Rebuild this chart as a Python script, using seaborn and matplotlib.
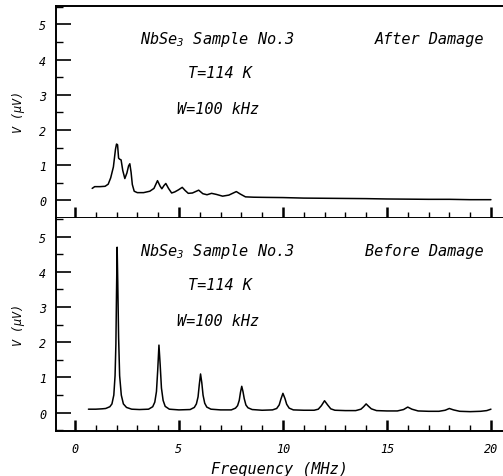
import numpy as np
import pandas as pd
import seaborn as sns
import matplotlib.pyplot as plt

# frequency (MHz) and signal V (uV)
freq_after = [0.83, 0.95, 1.20, 1.45, 1.60, 1.72, 1.85, 1.95, 2.00, 2.05, 2.10, 2.15,
              2.22, 2.30, 2.40, 2.50, 2.58, 2.64, 2.70, 2.76, 2.85, 3.00, 3.30, 3.60,
              3.80, 3.97, 4.10, 4.18, 4.28, 4.37, 4.50, 4.65, 4.80, 4.98, 5.16, 5.30,
              5.45, 5.65, 5.95, 6.15, 6.35, 6.57, 6.80, 7.10, 7.40, 7.76, 7.95, 8.20,
              8.60, 9.20, 10.0, 11.0, 12.0, 13.0, 14.0, 15.0, 16.0, 17.0, 18.0, 19.0, 20.0]
v_after = [0.34, 0.39, 0.39, 0.40, 0.46, 0.64, 0.95, 1.45, 1.60, 1.58, 1.20, 1.17,
           1.15, 0.85, 0.62, 0.78, 0.98, 1.04, 0.80, 0.45, 0.26, 0.22, 0.22, 0.26,
           0.34, 0.56, 0.40, 0.33, 0.42, 0.48, 0.34, 0.21, 0.24, 0.30, 0.37, 0.28,
           0.20, 0.21, 0.29, 0.19, 0.16, 0.20, 0.17, 0.12, 0.15, 0.25, 0.18, 0.10,
           0.09, 0.085, 0.08, 0.065, 0.06, 0.055, 0.05, 0.04, 0.035, 0.03, 0.03, 0.02, 0.02]

freq_before = [0.65, 1.00, 1.30, 1.48, 1.68, 1.78, 1.87, 1.93, 1.97, 2.00, 2.03, 2.06,
               2.10, 2.15, 2.23, 2.33, 2.48, 2.73, 3.10, 3.54, 3.74, 3.84, 3.92, 3.98,
               4.04, 4.10, 4.16, 4.24, 4.34, 4.54, 5.00, 5.54, 5.74, 5.84, 5.92, 5.98,
               6.04, 6.10, 6.16, 6.24, 6.34, 6.54, 7.00, 7.52, 7.72, 7.82, 7.90, 7.96,
               8.02, 8.08, 8.14, 8.22, 8.32, 8.52, 9.00, 9.50, 9.70, 9.82, 9.90, 10.0,
               10.1, 10.18, 10.3, 10.5, 11.0, 11.5, 11.7, 11.85, 12.0, 12.15, 12.3, 12.5,
               13.0, 13.5, 13.75, 13.88, 14.0, 14.12, 14.25, 14.5, 15.0, 15.5, 15.8, 16.0,
               16.2, 16.5, 17.0, 17.5, 17.8, 18.0, 18.2, 18.5, 19.0, 19.5, 19.8, 20.0]
v_before = [0.10, 0.10, 0.11, 0.12, 0.17, 0.25, 0.50, 1.05, 1.95, 3.40, 4.70, 3.70,
            2.15, 1.05, 0.50, 0.25, 0.15, 0.10, 0.09, 0.10, 0.17, 0.30, 0.60, 1.20,
            1.92, 1.35, 0.70, 0.35, 0.18, 0.10, 0.08, 0.09, 0.15, 0.25, 0.45, 0.80,
            1.10, 0.85, 0.50, 0.27, 0.16, 0.10, 0.08, 0.08, 0.13, 0.20, 0.35, 0.58,
            0.75, 0.60, 0.40, 0.22, 0.14, 0.09, 0.07, 0.08, 0.12, 0.22, 0.38, 0.55,
            0.40, 0.24, 0.13, 0.08, 0.07, 0.07, 0.10, 0.20, 0.34, 0.22, 0.11, 0.07,
            0.06, 0.06, 0.10, 0.17, 0.25, 0.18, 0.11, 0.06, 0.05, 0.05, 0.09, 0.16,
            0.10, 0.05, 0.04, 0.04, 0.07, 0.12, 0.08, 0.04, 0.03, 0.04, 0.06, 0.10]

sample_text = r'NbSe$_{3}$ Sample No.3'
temp_text = 'T=114 K'
width_text = 'W=100 kHz'
panel_titles = ['After Damage', 'Before Damage']

sns.set_style('ticks')
plt.rcParams['font.family'] = ['DejaVu Sans Mono']
plt.rcParams['font.style'] = 'italic'
plt.rcParams['mathtext.fontset'] = 'custom'
plt.rcParams['mathtext.rm'] = 'DejaVu Sans Mono:italic'
plt.rcParams['mathtext.it'] = 'DejaVu Sans Mono:italic'
plt.rcParams['axes.edgecolor'] = 'black'
plt.rcParams['xtick.color'] = 'black'
plt.rcParams['ytick.color'] = 'black'
plt.rcParams['text.color'] = 'black'
plt.rcParams['axes.labelcolor'] = 'black'

fig = plt.figure(figsize=(5.03, 4.77), dpi=100)
ax1 = fig.add_axes([0.1113, 0.5409, 0.8887, 0.4444])
ax2 = fig.add_axes([0.1113, 0.0943, 0.8887, 0.4466])

df_after = pd.DataFrame({'f': freq_after, 'v': v_after})
df_before = pd.DataFrame({'f': freq_before, 'v': v_before})

sns.lineplot(data=df_after, x='f', y='v', ax=ax1, color='black', lw=1.1, sort=False)
sns.lineplot(data=df_before, x='f', y='v', ax=ax2, color='black', lw=1.1, sort=False)

ylims = [(-0.48, 5.52), (-0.52, 5.53)]
for ax, title, yl in zip([ax1, ax2], panel_titles, ylims):
    ax.set_xlim(-0.91, 20.58)
    ax.set_ylim(*yl)
    ax.spines['right'].set_visible(False)
    for s in ['left', 'bottom', 'top']:
        ax.spines[s].set_linewidth(1.4)
    ax.set_xticks([0, 5, 10, 15, 20])
    ax.set_xticks(np.arange(1, 21, 1), minor=True)
    ax.set_yticks([0, 1, 2, 3, 4, 5])
    ax.set_yticks(np.arange(-0.5, 5.6, 0.5), minor=True)
    ax.tick_params(axis='x', which='major', direction='in', length=8, width=1.8, pad=8, labelsize=8.5)
    ax.tick_params(axis='x', which='minor', direction='in', length=4, width=1.0)
    ax.tick_params(axis='y', which='major', direction='in', length=11, width=1.2, pad=7, labelsize=8.5)
    ax.tick_params(axis='y', which='minor', direction='in', length=5, width=1.0)
    ax.set_xlabel('')
    ax.set_ylabel(r'V ($\mu$V)', fontsize=8.5)
    ax.yaxis.set_label_coords(-0.064, 0.5)
    ax.text(3.13, 4.48, sample_text, fontsize=11, va='baseline')
    ax.text(5.43, 3.51, temp_text, fontsize=11, va='baseline')
    ax.text(4.9, 2.49, width_text, fontsize=11, va='baseline')
    ax.text(14.42 if title == 'After Damage' else 13.94, 4.48, title, fontsize=11, va='baseline')

ax1.tick_params(axis='x', labelbottom=False)
ax2.spines['top'].set_visible(False)
ax2.set_xlabel('Frequency (MHz)', fontsize=11, labelpad=4)

fig.savefig('out.png', dpi=100)
